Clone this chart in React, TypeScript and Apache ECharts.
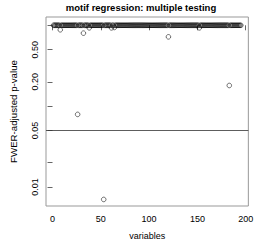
import React, { useEffect, useRef } from "react";
import * as echarts from "echarts";

const title = "motif regression: multiple testing";
const xName = "variables";
const yName = "FWER-adjusted p-value";
const xTicks = [0, 50, 100, 150, 200];
const yTicks = [1, 0.5, 0.2, 0.1, 0.05, 0.02, 0.01];
const yLabels = [0.5, 0.2, 0.05, 0.01];
const threshold = 0.05;
// FWER-adjusted p-values for variables 1..195
const pValues = [
  1, 1, 1, 1, 1, 1, 1, 0.88, 1, 1, 1, 1, 1, 1, 1,
  1, 1, 1, 1, 1, 1, 1, 1, 1, 1, 0.079, 1, 1, 1, 1,
  1, 0.8, 1, 1, 1, 1, 1, 0.93, 1, 1, 1, 1, 1, 1, 1,
  1, 1, 1, 1, 1, 1, 1, 0.007, 1, 1, 1, 1, 1, 1, 1,
  0.93, 1, 1, 0.94, 1, 1, 1, 1, 1, 1, 1, 1, 1, 1, 1,
  1, 1, 1, 1, 1, 1, 1, 1, 1, 1, 1, 1, 1, 1, 1,
  1, 1, 1, 1, 1, 1, 1, 1, 1, 1, 1, 1, 1, 1, 1,
  1, 1, 1, 1, 1, 1, 1, 1, 1, 1, 1, 1, 1, 1, 0.72,
  1, 1, 1, 1, 1, 1, 1, 1, 1, 1, 1, 1, 1, 1, 1,
  1, 1, 1, 1, 1, 1, 1, 1, 1, 1, 1, 1, 1, 1, 1,
  1, 0.93, 1, 1, 1, 1, 1, 1, 1, 1, 1, 1, 1, 1, 1,
  1, 1, 1, 1, 1, 1, 1, 1, 1, 1, 1, 1, 1, 1, 1,
  1, 1, 0.18, 1, 1, 1, 1, 1, 1, 1, 1, 1, 1, 1, 1,
];

const FONT = "'Liberation Sans', Arial, sans-serif";

export default function App() {
  const ref = useRef<HTMLDivElement>(null);
  useEffect(() => {
    if (!ref.current) return;
    const chart = echarts.init(ref.current, null, { renderer: "svg" });
    const n = pValues.length;
    const pad = (n - 1) * 0.04;
    const data = pValues.map((p, i) => [i + 1, Math.log10(p)]);
    chart.setOption({
      animation: false,
      backgroundColor: "#fff",
      title: {
        text: title,
        left: 141,
        textAlign: "center",
        top: 2,
        padding: 0,
        textStyle: { fontFamily: FONT, fontSize: 9.5, fontWeight: "bold", color: "#000" },
      },
      grid: { left: 31, top: 17, right: 5, bottom: 30, show: true, borderColor: "#999", borderWidth: 1 },
      xAxis: {
        type: "value",
        min: 1 - pad,
        max: n + pad,
        name: xName,
        nameLocation: "middle",
        nameGap: 25,
        nameTextStyle: { fontFamily: FONT, fontSize: 9, color: "#000" },
        axisLine: { show: false },
        splitLine: { show: false },
        axisTick: { show: true, length: 5, lineStyle: { color: "#666" }, customValues: xTicks },
        axisLabel: { fontFamily: FONT, fontSize: 9, color: "#000", margin: 8, customValues: xTicks },
      },
      yAxis: {
        type: "value",
        min: -2.236,
        max: 0.1028,
        name: yName,
        nameLocation: "middle",
        nameGap: 28,
        nameTextStyle: { fontFamily: FONT, fontSize: 9.7, color: "#000" },
        axisLine: { show: false },
        splitLine: { show: false },
        axisTick: { show: true, length: 5, lineStyle: { color: "#666" }, customValues: yTicks.map((v) => Math.log10(v)) },
        axisLabel: {
          fontFamily: FONT,
          fontSize: 9,
          color: "#000",
          rotate: 90,
          margin: 7,
          customValues: yLabels.map((v) => Math.log10(v)),
          formatter: (v: number) => Math.pow(10, v).toFixed(2),
        },
      },
      series: [
        {
          type: "scatter",
          data,
          symbol: "circle",
          symbolSize: 4.6,
          itemStyle: { color: "rgba(0,0,0,0)", borderColor: "#000", borderWidth: 0.7 },
          markLine: {
            silent: true,
            symbol: "none",
            label: { show: false },
            lineStyle: { color: "#333", width: 0.8, type: "solid" },
            data: [{ yAxis: Math.log10(threshold) }],
          },
        },
      ],
    });
    return () => chart.dispose();
  }, []);
  return <div ref={ref} style={{ position: "fixed", left: 0, top: 0, width: 256, height: 245 }} />;
}
